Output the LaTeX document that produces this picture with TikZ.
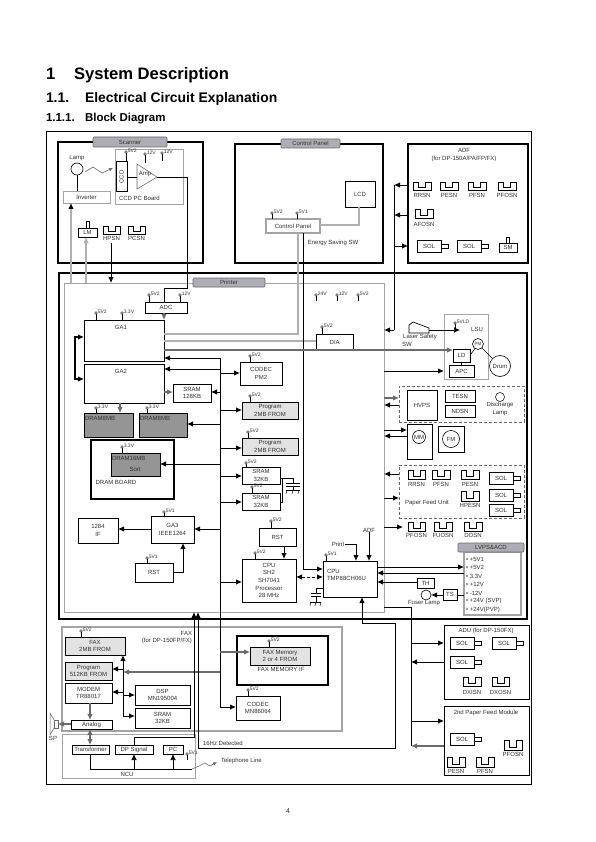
\documentclass[tikz,border=0pt]{standalone}
\usepackage{fontspec}
\setmainfont{Liberation Sans}
\usetikzlibrary{arrows.meta,calc}
\definecolor{txt}{HTML}{303030}
\definecolor{gbox}{HTML}{A4A4A4}
\definecolor{gline}{HTML}{B0B0B0}
\definecolor{gdark}{HTML}{6A6A6A}
\definecolor{gfill}{HTML}{E2E2E2}
\definecolor{dfill}{HTML}{959595}
\definecolor{tabfill}{HTML}{ADADB6}
\tikzset{
  every node/.style={font=\fontsize{6}{7.6}\selectfont,text=txt,inner sep=0pt,outer sep=0pt},
  plainbox/.style={draw=black,line width=.8pt,align=center},
  lightbox/.style={plainbox,fill=gfill},
  darkbox/.style={plainbox,fill=dfill},
  graybox/.style={draw=gbox,line width=.9pt,align=center},
  tabbox/.style={draw=gdark,fill=tabfill,line width=.6pt,rounded corners=1pt},
  frameA/.style={draw=black,line width=1pt},
  frameB/.style={draw=black,line width=1.7pt},
  dashbox/.style={draw=gdark,line width=.6pt,densely dashed},
  arr/.style={draw=black,line width=.9pt,-{Latex[length=6pt,width=5.5pt]}},
  arrb/.style={draw=black,line width=.9pt,{Latex[length=6pt,width=5.5pt]}-{Latex[length=6pt,width=5.5pt]}},
  garr/.style={draw=gdark,line width=1.1pt,-{Latex[length=6pt,width=5.5pt]}},
  garrb/.style={draw=gdark,line width=1.1pt,{Latex[length=6pt,width=5.5pt]}-{Latex[length=6pt,width=5.5pt]}},
  lln/.style={draw=black,line width=.9pt},
  gln/.style={draw=gline,line width=1.2pt},
  sens/.style={draw=black,line width=.7pt},
  small/.style={font=\fontsize{5}{5.5}\selectfont},
  ttl/.style={anchor=base west,text=black}
}
% \bxx[style]{name}{x1}{y1}{x2}{y2}{text}
\newcommand{\bxx}[7][plainbox]{%
  \pgfmathsetmacro\bcx{(#3+#5)/2}\pgfmathsetmacro\bcy{(#4+#6)/2}%
  \pgfmathsetmacro\bw{#5-#3}\pgfmathsetmacro\bh{#6-#4}%
  \node[#1,minimum width=\bw pt,minimum height=\bh pt] (#2) at (\bcx,\bcy) {#7};}
% voltage marker {x}{y}{stem end y}{label}
\newcommand{\vmk}[4]{%
  \draw[line width=.6pt] (#1,#2) -- (#1,#3);
  \draw[line width=.4pt,fill=white] (#1,#2) circle (1.3pt);
  \node[small,anchor=west] at ($(#1,#2)+(1.8,-1)$) {#4};}
% sensor {x1}{y1}{x2}{y2}{label}{label y}
\newcommand{\snsr}[6]{%
  \pgfmathsetmacro\sa{#1+(#3-#1)*.3}\pgfmathsetmacro\sb{#1+(#3-#1)*.7}%
  \pgfmathsetmacro\sm{#2+(#4-#2)*.72}\pgfmathsetmacro\sc{(#1+#3)/2}%
  \draw[sens] (#1,#2) -- (#1,#4) -- (#3,#4) -- (#3,#2) -- (\sb,#2) -- (\sb,\sm) -- (\sa,\sm) -- (\sa,#2) -- cycle;
  \node at (\sc,#6) {#5};}
% solenoid {name}{x1}{y1}
\newcommand{\solx}[3]{%
  \pgfmathsetmacro\sx{#2+24}\pgfmathsetmacro\sy{#3+12}\pgfmathsetmacro\sp{#2+31}%
  \pgfmathsetmacro\sq{#3+4}\pgfmathsetmacro\sr{#3+8.5}%
  \bxx{#1}{#2}{#3}{\sx}{\sy}{SOL}
  \draw[sens] (\sx,\sq) rectangle (\sp,\sr);}
\begin{document}
\begin{tikzpicture}[x=1pt,y=-1pt]
\useasboundingbox (0,0) rectangle (595,842);
\fill[white] (0,0) rectangle (595,842);
% titles
\node[ttl,font=\fontsize{16.6}{18}\bfseries] (t1a) at (46,80) {1};
\node[ttl,font=\fontsize{16.6}{18}\bfseries] (t1b) at (74,80) {System Description};
\node[ttl,font=\fontsize{13.9}{15}\bfseries] (t2a) at (46,103) {1.1.};
\node[ttl,font=\fontsize{13.9}{15}\bfseries] (t2b) at (85,103) {Electrical Circuit Explanation};
\node[ttl,font=\fontsize{11.5}{13}\bfseries] (t3a) at (46,122) {1.1.1.};
\node[ttl,font=\fontsize{11.5}{13}\bfseries] (t3b) at (85,122) {Block Diagram};
\node[font=\fontsize{7}{8}\selectfont] (pg) at (288,811) {4};
% outer frame
\bxx[draw=black,line width=.8pt]{outer}{46}{131}{531}{784}{}
% ---- gray inner backgrounds
\bxx[graybox]{printerIn}{64}{283}{384}{612}{}
\bxx[graybox,line width=1.2pt]{faxIn}{62}{627}{342}{731}{}
\bxx[graybox,line width=.8pt]{ncu}{62}{734}{195}{778}{}
\bxx[graybox,line width=.7pt]{ccdb}{115}{149}{183}{204}{}
\bxx[graybox,line width=.7pt]{lsu}{444}{314}{488}{379}{}
% ---- Scanner
\bxx[frameB]{scanner}{58}{142}{203}{263}{}
\bxx[tabbox]{scantab}{93}{137}{167}{147}{Scanner}
\node (lamplbl) at (77,158) {Lamp};
\node[draw=black,line width=.6pt,circle,minimum size=12pt] (lamp) at (77,169) {};
\bxx[graybox,line width=.8pt,fill=white]{inverter}{63}{191}{110}{203}{Inverter}
\draw[lln,line width=.6pt] (lamp) -- (inverter.north -| lamp);
\coordinate (sq1) at (85,172);
\draw[line width=.6pt,gdark,-{Latex[length=4pt,width=3.5pt]}] (sq1) -- (93,167) -- (102,173) -- (113,168);
\bxx[plainbox,line width=1pt]{ccd}{116}{162}{127}{192}{\rotatebox{90}{CCD}}
\coordinate (ampT) at (137,164); \coordinate (ampB) at (137,189); \coordinate (ampO) at (157,177);
\draw[line width=.6pt,gdark] (ampT) -- (ampB) -- (ampO) -- cycle;
\node (amptxt) at (145,174) {Amp};
\draw[lln] (ccd.east |- ampO) -- (ampT |- ampO);
\node[anchor=west] (ccdlbl) at (119,198) {CCD PC Board};
\vmk{126}{152}{161}{5V2}\vmk{145}{154}{163}{12V}\vmk{162}{153}{161}{12V}
\bxx{lm}{78}{228}{97}{237}{LM}
\draw[sens] (86,221) rectangle (89,228);
\snsr{103}{226}{120}{234}{HPSN}{238}
\snsr{128}{226}{145}{234}{PCSN}{238}
% ---- Control Panel
\bxx[frameB]{cpanel}{235}{144}{383}{263}{}
\bxx[tabbox]{cptab}{281}{139}{340}{148}{Control Panel}
\bxx{lcd}{345}{181}{375}{207}{LCD}
\bxx[draw=gbox,line width=1.3pt,fill=white]{cp}{266}{219}{320}{233}{Control Panel}
\draw[gln] (cp.east |- 0,225) -- (359,225) -- (lcd.south -| 359,0);
\node (esave) at (333,243) {Energy Saving SW};
\vmk{272}{213}{219}{5V2}\vmk{297}{213}{219}{5V1}
% ---- ADF
\bxx[frameA,line width=1.2pt]{adf}{408}{144}{528}{263}{}
\node[align=center] (adft) at (464,155) {ADF\\(for DP-150A/PA/FP/FX)};
\snsr{413}{182}{431}{190}{RRSN}{195}
\snsr{440}{182}{458}{190}{PESN}{195}
\snsr{468}{182}{486}{190}{PFSN}{195}
\snsr{498}{182}{516}{190}{PFOSN}{195}
\snsr{415}{209}{433}{218}{AFOSN}{224}
\solx{adfsol1}{417}{240}\solx{adfsol2}{457}{240}
\bxx{sm}{499}{243}{517}{252}{SM}
\draw[sens] (506,237) rectangle (509,243);
\coordinate (busB) at (394,185);
\coordinate (busBend) at (394,330);
% ---- Printer
\bxx[frameB]{printer}{59}{273}{527}{619}{}
\bxx[tabbox]{prtab}{193}{278}{265}{287}{Printer}
\bxx{adc}{145}{302}{187}{313}{ADC}
\bxx{ga1}{84}{320}{164}{361}{}
\node (ga1t) at (121,327) {GA1};
\bxx{ga2}{84}{364}{164}{403}{}
\node (ga2t) at (121,371) {GA2};
\bxx{codecp}{240}{362}{282}{385}{CODEC\\PM2}
\bxx{sram128}{173}{384}{211}{402}{SRAM\\128KB}
\bxx[lightbox]{prog1}{242}{402}{298}{419}{Program\\2MB FROM}
\bxx[darkbox]{dram1}{84}{413}{133}{437}{}
\node[anchor=west] (dram1t) at (85,418) {DRAM8MB};
\bxx[darkbox]{dram2}{139}{413}{187}{437}{}
\node[anchor=west] (dram2t) at (140,418) {DRAM8MB};
\bxx[lightbox]{prog2}{242}{438}{298}{455}{Program\\2MB FROM}
\bxx[frameA,line width=1.5pt]{dramb}{91}{440}{174}{499}{}
\bxx[darkbox]{dram16}{111}{453}{160}{476}{}
\node[anchor=west] (dram16t) at (112,458) {DRAM16MB};
\node (sortt) at (135,469) {Sort};
\node (drambt) at (116,482) {DRAM BOARD};
\bxx{sram1}{242}{467}{280}{484}{SRAM\\32KB}
\bxx{sram2}{242}{493}{280}{510}{SRAM\\32KB}
\bxx{rst1}{259}{528}{296}{546}{RST}
\bxx{cpu1}{242}{559}{296}{602}{CPU\\SH2\\SH7041\\Processor\\28 MHz}
\bxx{ga3}{151}{516}{194}{543}{GA3\\IEEE1264}
\bxx{if}{78}{518}{118}{543}{1284\\IF}
\bxx{rst2}{135}{563}{173}{582}{RST}
\bxx{cpu2}{323}{561}{377}{597}{}
\node[anchor=west,align=left] (cpu2t) at (327,575) {CPU\\TMP88CH06U};
\bxx{da}{316}{334}{353}{350}{D/A}
\vmk{149}{295}{302}{5V2}\vmk{180}{295}{302}{12V}
\vmk{96}{313}{320}{5V2}\vmk{122}{313}{320}{3.3V}
\vmk{250}{356}{362}{5V2}\vmk{250}{396}{402}{5V2}
\vmk{96}{408}{413}{3.3V}\vmk{147}{408}{413}{3.3V}
\vmk{248}{432}{438}{5V2}\vmk{122}{447}{453}{3.3V}
\vmk{246}{463}{467}{5V2}\vmk{252}{487}{493}{5V2}
\vmk{271}{521}{528}{5V2}\vmk{255}{553}{559}{5V2}
\vmk{164}{512}{516}{5V1}\vmk{147}{558}{563}{5V1}
\vmk{326}{555}{561}{5V1}\vmk{322}{327}{334}{5V2}
\vmk{316}{295}{301}{24V}\vmk{337}{295}{301}{12V}\vmk{358}{295}{301}{5V2}
% laser
\coordinate (lss) at (429,330);
\draw[sens] (409,333) -- (409,325) -- (413,322) -- (429,328) -- (429,333) -- cycle;
\node (lsstxt) at (420,337) {Laser Safety};
\node (lsw) at (407,344) {SW};
\vmk{455}{323}{329}{5VLD}
\node (lsut) at (477,329) {LSU};
\node[draw=black,line width=.6pt,circle,minimum size=11pt,font=\fontsize{4.5}{5}\selectfont] (pm) at (478,344) {PM};
\node[draw=black,line width=.6pt,circle,minimum size=21pt] (drum) at (500,366) {Drum};
\bxx{ld}{453}{349}{470}{362}{LD}
\bxx{apc}{449}{365}{474}{377}{APC}
\draw[lln,line width=.6pt] (ld) -- (apc);
\draw[lln,line width=.6pt] (ld.east) -- (pm);
\draw[lln,line width=.6pt] (pm) -- (drum);
% HVPS group
\bxx[dashbox]{hvgrp}{399}{386}{524}{422}{}
\bxx{hvps}{407}{390}{437}{420}{HVPS}
\bxx{tesn}{445}{390}{475}{402}{TESN}
\bxx{ndsn}{445}{405}{475}{417}{NDSN}
\node[draw=black,line width=.5pt,circle,minimum size=9pt] (dlamp) at (500,397) {};
\node[align=center] (dlt) at (500,409) {Discharge\\Lamp};
\bxx{mmb}{407}{424}{432}{459}{}
\node[draw=black,line width=.6pt,circle,minimum size=13pt] (mm) at (419,437) {MM};
\bxx{fmb}{438}{426}{464}{452}{}
\node[draw=black,line width=.6pt,circle,minimum size=17pt] (fm) at (451,439) {FM};
% paper feed unit
\bxx[dashbox]{pfu}{399}{465}{524}{518}{}
\snsr{408}{470}{425}{479}{RRSN}{484}
\snsr{432}{470}{450}{479}{PFSN}{484}
\snsr{461}{470}{479}{479}{PESN}{484}
\snsr{461}{491}{479}{501}{HPESN}{505}
\node (pfut) at (427,503) {Paper Feed Unit};
\solx{pfsol1}{489}{472}\solx{pfsol2}{489}{489}\solx{pfsol3}{489}{504}
\snsr{408}{522}{425}{531}{PFOSN}{535}
\snsr{434}{522}{452}{531}{FUOSN}{535}
\snsr{464}{522}{482}{531}{DOSN}{535}
% LVPS
\bxx[graybox,line width=1.1pt]{lvps}{464}{552}{521}{615}{}
\bxx[tabbox]{lvtab}{458}{543}{524}{552}{LVPS\&ACD}
\node[anchor=west] (lv1) at (466,559) {• +5V1};
\node[anchor=west] (lv2) at (466,567) {• +5V2};
\node[anchor=west] (lv3) at (466,576) {• 3.3V};
\node[anchor=west] (lv4) at (466,584) {• +12V};
\node[anchor=west] (lv5) at (466,593) {• -12V};
\node[anchor=west] (lv6) at (466,601) {• +24V (SVP)};
\node[anchor=west] (lv7) at (466,610) {• +24V(PVP)};
\bxx{th}{417}{578}{434}{588}{TH}
\bxx{ts}{443}{589}{457}{600}{TS}
\node[draw=black,line width=.6pt,circle,minimum size=10pt] (flamp) at (426,595) {};
\node (flt) at (424,603) {Fuser Lamp};
\node (printt) at (338,544) {Print};
\node (adft2) at (369,530) {ADF};
% capacitors
\coordinate (capA) at (293,478);
\draw[lln,line width=.6pt] (sram1.east |- 0,478) -- (capA) -- (293,483);
\draw[lln,line width=.6pt] (sram2.east |- 0,502) -- (282,502) -- (282,478);
\draw[line width=.9pt] (286,483.5) -- (300,483.5) (286,486) -- (300,486);
\draw[line width=.6pt] (293,486) -- (293,490) (286,490) -- (300,490);
\draw[line width=.4pt] (287,490) -- (286,494) (293,490) -- (292,494) (299,490) -- (298,494);
\coordinate (capB) at (316,588);
\draw[lln,line width=.6pt] (cpu2.west |- capB) -- (capB) -- (316,593.5);
\draw[line width=.9pt] (311,593.5) -- (321,593.5) (311,596.5) -- (321,596.5);
\draw[line width=.6pt] (316,596.5) -- (316,602) (310,602) -- (321,602);
\draw[line width=.4pt] (311,602) -- (310,606) (316,602) -- (315,606) (321,602) -- (320,606);
% ---- FAX
\bxx[lightbox]{faxrom}{65}{637}{125}{655}{FAX\\2MB FROM}
\bxx[lightbox]{prog3}{65}{662}{112}{680}{Program\\512KB FROM}
\bxx{modem}{65}{683}{112}{703}{MODEM\\TR88017}
\bxx{dsp}{135}{685}{190}{705}{DSP\\MN195004}
\bxx{sram3}{135}{708}{190}{728}{SRAM\\32KB}
\bxx{analog}{71}{720}{112}{729}{Analog}
\node[anchor=east,align=right] (faxt) at (192,637.5) {FAX\\(for DP-150FP/FX)};
\vmk{81}{631}{637}{5V2}
\bxx{transf}{72}{745}{109}{754}{Transformer}
\bxx{dpsig}{115}{745}{153}{754}{DP Signal}
\bxx{pc}{163}{745}{183}{754}{PC}
\vmk{187}{754}{760}{5V1}
\node (ncut) at (127,774) {NCU};
\bxx[frameB,line width=2pt]{fmif}{237}{636}{328}{685}{}
\bxx[lightbox]{fmem}{250}{647}{310}{665}{FAX Memory\\2 or 4 FROM}
\node (fmift) at (281,669) {FAX MEMORY IF};
\vmk{269}{641}{647}{5V2}
\bxx{codecm}{236}{696}{280}{720}{CODEC\\MN86064}
\vmk{248}{690}{696}{5V2}
\node[anchor=west] (hzt) at (203,743) {16Hz Detected};
\node[anchor=west] (telt) at (221,761) {Telephone Line};
\draw[line width=.7pt,gdark] (54,720) rectangle (58,728);
\draw[line width=.5pt,gdark] (54,720) -- (50,713) -- (50,735) -- (54,728);
\node (spt) at (53,738) {SP};
\coordinate (tel0) at (192,769);
\draw[line width=.6pt,gdark,-{Latex[length=4pt,width=3.5pt]}] (tel0) -- (199,766) -- (205,763) -- (210,766) -- (217,762);
% ADU
\bxx[plainbox,line width=.9pt]{adu}{444}{625}{529}{699}{}
\node (adut) at (486,631) {ADU (for DP-150FX)};
\solx{adsol1}{450}{637}\solx{adsol2}{492}{637}\solx{adsol3}{450}{656}
\snsr{463}{677}{481}{686}{DXISN}{692}
\snsr{492}{677}{509}{686}{DXOSN}{692}
% 2nd paper feed
\bxx[plainbox,line width=.9pt]{second}{444}{706}{529}{775}{}
\node (sect) at (486,713) {2nd Paper Feed Module};
\solx{secsol}{450}{733}
\snsr{504}{740}{522}{750}{PFOSN}{754}
\snsr{447}{757}{465}{767}{PESN}{771}
\snsr{476}{757}{494}{767}{PFSN}{771}
% ---- connectors
% scanner to printer
\draw[lln] (ampO) -- (187,177) -- (187,288) -- (164,288) -- (adc.north -| 164,0);
\draw[gln,-{Latex[length=6pt,width=5.5pt,black]}] (printerIn.north -| 71,0) -- (inverter.south -| 71,0);
\draw[gln,-{Latex[length=6pt,width=5.5pt]}] (printerIn.north -| 86,0) -- (lm.south -| 86,0);
\draw[arr] (111,243) -- (printerIn.north -| 111,0);
% control panel to printer
\draw[gln] (cp.south -| 298,0) -- (298,334) -- (ga1.east |- 0,334);
\draw[gln] (da.west |- 0,341) -- (ga1.east |- 0,341);
\draw[lln] (cp.south -| 303,0) -- (303,569);
\draw[arr] (303,569) -- (cpu2.west |- 0,569);
\draw[garr] (ga1.east |- 0,350) -- (ld.west |- 0,350);
\draw[garr] (adc.south -| 164,0) -- (ga1.north -| 164,0);
% ADF bus
\draw[lln] (busB) -- (busBend);
\draw[arr] (adf.west |- busB) -- (busB);
\draw[arr] (adf.west |- 0,215) -- (busB |- 0,215);
\draw[arr] (busB |- 0,246) -- (adf.west |- 0,246);
\draw[arr] (busBend) -- (printerIn.east |- busBend);
% main bus
\coordinate (busA) at (220,358);
\coordinate (busAend) at (220,707);
\draw[lln] (busA) -- (busAend);
\draw[arr] (busA) -- (ga1.east |- busA);
\draw[arr] (busA |- 0,369) -- (ga2.east |- 0,369);
\draw[arr] (busA |- 0,373) -- (codecp.west |- 0,373);
\draw[arr] (busA |- 0,392) -- (sram128.east |- 0,392);
\draw[garr] (ga2.east |- 0,392) -- (sram128.west |- 0,392);
\draw[arr] (busA |- 0,410) -- (prog1.west |- 0,410);
\draw[arr] (busA |- 0,424) -- (dram2.east |- 0,424);
\draw[arr] (busA |- 0,448) -- (prog2.west |- 0,448);
\draw[arr] (busA |- 0,464) -- (dram16.east |- 0,464);
\draw[arr] (busA |- 0,476) -- (sram1.west |- 0,476);
\draw[arr] (busA |- 0,502) -- (sram2.west |- 0,502);
\draw[arr] (busA |- 0,529) -- (ga3.east |- 0,529);
\draw[arr] (ga3.west |- 0,529) -- (if.east |- 0,529);
\draw[arr] (busA |- 0,582) -- (cpu1.west |- 0,582);
\draw[arr] (rst2.east |- 0,572) -- (183,572) -- (ga3.south -| 183,0);
\draw[arr] (rst1.south -| 284,0) -- (cpu1.north -| 284,0);
\draw[garr] (ga2.south -| 120,0) -- (dram1.north -| 120,0);
\draw[arrb,densely dashed] (cpu1.east |- 0,577) -- (cpu2.west |- 0,577);
\draw[arrb,line width=1.1pt] (ga1.west |- 0,337) -- (75,337) -- (75,379) -- (ga2.west |- 0,379);
\draw[arr,line width=.7pt] (lss) -- (460,330);
\draw[arr] (printerIn.east |- 0,371) -- (lsu.west |- 0,371);
\draw[garr] (printerIn.east |- 0,398) -- (hvgrp.west |- 0,398);
\draw[arr] (hvgrp.west |- 0,405) -- (printerIn.east |- 0,405);
\draw[arr] (printerIn.east |- 0,430) -- (mmb.west |- 0,430);
\draw[arr] (mmb.west |- 0,436) -- (printerIn.east |- 0,436);
\draw[arr] (pfu.west |- 0,474) -- (printerIn.east |- 0,474);
\draw[arr] (printerIn.east |- 0,498) -- (pfu.west |- 0,498);
\draw[arr] (printerIn.east |- 0,527) -- (403,527);
\draw[arr] (printt.east) ++(1,0) -- (356,544) -- (cpu2.north -| 356,0);
\draw[arr] (adft2.south) -- (cpu2.north -| adft2);
\draw[arr] (cpu2.east |- 0,567) -- (lvps.west |- 0,567);
\draw[arr] (lvps.west |- 0,573) -- (cpu2.east |- 0,573);
\draw[arr] (th.west |- 0,582) -- (cpu2.east |- 0,582);
\draw[arr] (ts.west |- flamp) -- (flamp.east);
\draw[lln,line width=.6pt] (ts.east |- flamp) -- (lvps.west |- flamp);
% FAX connectors
\draw[arr] (busAend) -- (codecm.west |- busAend);
\draw[garr] (busA |- 0,652) -- (fmem.west |- 0,652);
\draw[garr] (busA |- 0,672) -- (123,672);
\draw[arr] (123,716) -- (faxrom.south -| 123,0);
\draw[arr] (123,669) -- (prog3.east |- 0,669);
\draw[arr] (123,692) -- (modem.east |- 0,692);
\draw[arr] (123,695) -- (dsp.west |- 0,695);
\draw[arr] (123,716) -- (sram3.west |- 0,716);
\draw[garr] (modem.south -| 90,0) -- (analog.north -| 90,0);
\draw[garr] (analog.west |- 0,724) -- (58,724);
\draw[garrb] (analog.south -| 90,0) -- (transf.north -| 90,0);
\draw[lln,line width=.7pt] (transf.south -| 90,0) -- (90,769) -- (tel0);
\draw[arr,line width=.7pt] (134,769) -- (dpsig.south -| 134,0);
\draw[arr,line width=.7pt] (173,769) -- (pc.south -| 173,0);
\draw[arr] (dpsig.north -| 134,0) -- (134,737) -- (194,737) -- (printerIn.south -| 194,0);
\coordinate (jA) at (362,623);
\draw[arr] (jA) -- (cpu2.south -| jA);
\draw[lln] (jA) -- (395,623) -- (395,748) -- (198,748);
\draw[arr] (198,748) -- (printerIn.south -| 198,0);
% ADU bus
\coordinate (busC) at (411,607);
\coordinate (busCend) at (411,746);
\draw[lln] (printerIn.east |- busC) -- (busC) -- (busCend);
\draw[arr] (busC |- 0,643) -- (adu.west |- 0,643);
\draw[arr] (adu.west |- 0,662) -- (busC |- 0,662);
\draw[arr] (busC |- 0,721) -- (second.west |- 0,721);
\draw[garr] (second.west |- 0,746) -- (busCend);
\end{tikzpicture}
\end{document}
